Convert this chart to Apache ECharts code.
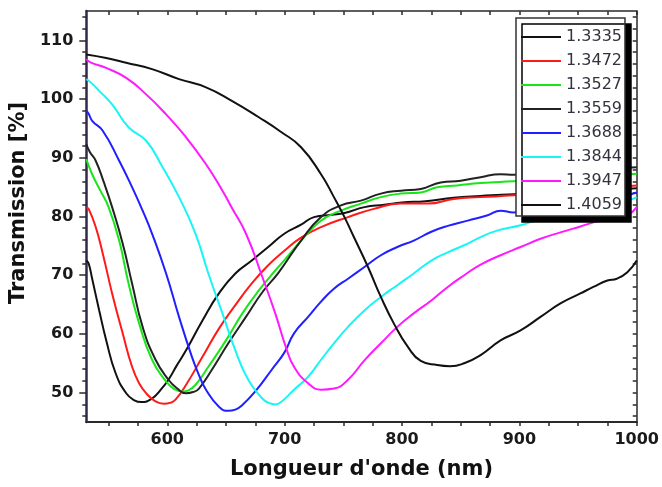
<!DOCTYPE html>
<html>
<head>
<meta charset="utf-8">
<script src="https://cdn.jsdelivr.net/npm/echarts@6/dist/echarts.min.js"></script>
<style>
html,body{margin:0;padding:0;background:#fff;}
#chart{width:662px;height:487px;}
</style>
</head>
<body>
<div id="chart"></div>
<script>
// ---- data ----
const seriesNames = ['1.3335','1.3472','1.3527','1.3559','1.3688','1.3844','1.3947','1.4059'];

const wl1 = [531,533,536,542,548,556,565,572,578,587,594,601,608,616,630,644,658,672,686,700,714,725,740,751,768,785,800,820,844,867,895,930,960,1000];
const t1  = [72.5,72.0,69.4,64.0,58.9,53.3,49.9,48.7,48.4,49.0,50.4,52.2,54.6,57.2,62.3,66.9,70.3,72.5,74.8,77.1,78.6,79.9,80.3,80.6,81.6,82.0,82.4,82.6,83.2,83.5,83.8,84.0,84.3,84.8];

const wl2 = [531,533,539,545,553,562,570,576,582,590,597,603,607,615,630,644,658,672,686,700,714,731,754,776,799,822,844,867,895,930,965,1000];
const t2  = [81.5,81.3,78.2,73.7,66.9,60.1,54.4,51.6,49.9,48.5,48.1,48.3,48.8,51.0,56.1,60.9,64.9,68.6,71.7,74.2,76.4,78.2,79.9,81.3,82.2,82.2,83.0,83.3,83.6,84.2,84.8,85.3];

const wl3 = [531,536,543,550,559,567,576,587,599,606,613,618,624,635,650,664,678,692,700,714,731,748,765,782,799,816,830,847,867,895,930,965,1000];
const t3  = [89.8,87.2,84.4,81.6,75.9,68.6,61.8,55.6,51.9,50.6,50.2,50.4,51.3,54.4,58.9,63.5,67.4,70.8,72.6,75.9,79.3,81.0,82.2,83.3,83.9,84.1,85.0,85.3,85.7,86.0,86.4,86.8,87.3];

const wl4 = [531,534,539,546,553,562,570,579,590,601,608,616,622,627,638,652,667,681,695,714,731,748,765,782,799,816,833,850,867,884,895,930,965,1000];
const t4  = [92.3,91.0,89.5,85.8,81.6,75.4,68.6,61.2,55.6,52.2,50.8,49.9,50.1,50.7,53.9,58.4,62.9,67.1,70.5,75.9,79.9,81.9,82.7,83.9,84.4,84.7,85.8,86.1,86.7,87.2,87.1,87.6,88.0,88.4];

const wl5 = [531,533,536,545,559,570,579,587,599,610,621,627,633,644,652,658,664,675,689,700,708,720,731,742,754,768,782,796,810,825,839,856,873,884,895,912,935,960,980,1000];
const t5  = [98.0,97.5,96.3,94.6,89.5,85.0,81.0,77.1,70.3,62.9,56.1,53.0,50.5,47.6,46.9,47.1,47.9,50.2,53.9,56.9,60.1,62.9,65.5,67.7,69.4,71.4,73.4,74.8,75.9,77.4,78.4,79.3,80.2,81.0,80.7,81.3,81.7,82.3,83.0,84.1];

const wl6 = [531,535,542,553,567,582,596,610,624,635,647,658,669,681,686,692,697,708,720,731,742,754,768,782,796,810,825,839,853,867,881,901,918,935,952,969,986,1000];
const t6  = [103.4,102.8,101.4,99.1,95.2,92.9,88.4,83.3,77.1,70.3,63.5,57.2,52.2,49.0,48.3,48.0,48.4,50.5,52.7,55.6,58.4,61.2,64.0,66.3,68.3,70.3,72.5,73.9,75.1,76.5,77.6,78.5,79.6,80.3,80.9,81.6,82.2,83.3];

const wl7 = [531,535,548,565,582,599,616,633,647,655,667,681,692,701,708,720,731,742,754,768,782,796,810,825,839,853,867,884,901,918,935,952,969,986,993,1000];
const t7  = [106.8,106.2,105.3,103.6,100.8,97.4,93.5,88.9,84.4,81.5,77.1,69.7,63.5,57.8,54.4,51.6,50.5,50.7,52.2,55.5,58.4,61.2,63.5,65.7,68.0,70.0,71.8,73.4,74.8,76.2,77.3,78.3,79.3,79.9,80.3,81.6];

const wl8 = [531,548,565,587,610,633,655,678,697,714,731,742,751,759,771,782,793,805,816,830,841,853,867,884,901,918,935,952,963,975,983,992,1000];
const t8  = [107.6,107.0,106.2,105.1,103.4,102.0,99.7,96.9,94.4,91.8,87.2,83.3,79.9,76.5,71.4,66.3,61.8,57.8,55.4,54.7,54.5,55.0,56.4,58.9,60.6,62.9,65.2,66.9,68.0,69.1,69.4,70.5,72.5];

const xTickValues  = [550,575,600,625,650,675,700,725,750,775,800,825,850,875,900,925,950,975,1000];
const xLabelValues = [600,700,800,900,1000];
const yLabelValues = [50,60,70,80,90,100,110];
const yTickValues  = [46,48,50,52,54,56,58,60,62,64,66,68,70,72,74,76,78,80,82,84,86,88,90,92,94,96,98,100,102,104,106,108,110,112,114];

// ---- chart ----
const wls = [wl1,wl2,wl3,wl4,wl5,wl6,wl7,wl8];
const ts  = [t1,t2,t3,t4,t5,t6,t7,t8];
const colors = ['#111111','#ff1a1a','#19e619','#222222','#1f1fff','#19f5f5','#ff19ff','#111111'];

const FONT = 'DejaVu Sans';
const AXC = '#2a2a2a';

const chart = echarts.init(document.getElementById('chart'), null, {renderer:'canvas'});

const series = seriesNames.map((n,i)=>({
  name: n,
  type: 'line',
  xAxisIndex: 0,
  yAxisIndex: 0,
  data: wls[i].map((w,k)=>[w, ts[i][k]]),
  symbol: 'none',
  showSymbol: false,
  smooth: 0.5,
  lineStyle: {color: colors[i], width: 2},
  itemStyle: {color: colors[i]},
  z: 2 + i*0.01,
  animation: false
}));

const fmt = v => String(v);

chart.setOption({
  backgroundColor: '#ffffff',
  animation: false,
  grid: {left: 85, right: 25, top: 11, bottom: 65, containLabel: false},
  legend: {
    data: seriesNames,
    orient: 'vertical',
    left: 516,
    top: 18,
    padding: [11, 3, 3, 5],
    itemWidth: 40,
    itemHeight: 14,
    itemGap: 8,
    icon: 'path://M0,0 L40,0 L40,2 L0,2 Z',
    backgroundColor: '#ffffff',
    borderColor: '#333333',
    borderWidth: 1.5,
    shadowColor: '#000000',
    shadowBlur: 0,
    shadowOffsetX: 6,
    shadowOffsetY: 6,
    selectedMode: false,
    textStyle: {fontFamily: FONT, fontSize: 16, color: '#33333f', lineHeight: 14},
    z: 10
  },
  xAxis: [
    {
      type: 'value', position: 'bottom', min: 531, max: 1000,
      name: "Longueur d'onde (nm)", nameLocation: 'middle', nameGap: 37,
      nameTextStyle: {fontFamily: FONT, fontWeight: 'bold', fontSize: 21, color: '#111'},
      axisLine: {show: true, onZero: false, lineStyle: {color: AXC, width: 2}},
      axisTick: {show: true, inside: false, length: 4, customValues: xTickValues, lineStyle: {color: AXC, width: 1.5}},
      axisLabel: {show: true, customValues: xLabelValues, formatter: fmt, margin: 10, fontFamily: FONT, fontWeight: 'bold', fontSize: 16, color: '#1a1a1a'},
      splitLine: {show: false}
    },
    {
      type: 'value', position: 'top', min: 531, max: 1000,
      axisLine: {show: true, onZero: false, lineStyle: {color: AXC, width: 1.5}},
      axisTick: {show: true, inside: true, length: 4, customValues: xTickValues, lineStyle: {color: AXC, width: 1.5}},
      axisLabel: {show: false},
      splitLine: {show: false}
    }
  ],
  yAxis: [
    {
      type: 'value', position: 'left', min: 45, max: 115,
      name: 'Transmission [%]', nameLocation: 'middle', nameGap: 50,
      nameTextStyle: {fontFamily: FONT, fontWeight: 'bold', fontSize: 21, color: '#111', padding: [0,0,0,27]},
      axisLine: {show: true, onZero: false, lineStyle: {color: '#33294a', width: 2.5}},
      axisTick: {show: true, inside: false, length: 7, customValues: yLabelValues, lineStyle: {color: AXC, width: 1.5}},
      axisLabel: {show: true, customValues: yLabelValues, formatter: fmt, margin: 13, fontFamily: FONT, fontWeight: 'bold', fontSize: 16, color: '#1a1a1a'},
      splitLine: {show: false}
    },
    {
      type: 'value', position: 'left', min: 45, max: 115,
      axisLine: {show: false},
      axisTick: {show: true, inside: false, length: 4, customValues: yTickValues, lineStyle: {color: AXC, width: 1.5}},
      axisLabel: {show: false},
      splitLine: {show: false}
    },
    {
      type: 'value', position: 'right', min: 45, max: 115,
      axisLine: {show: true, onZero: false, lineStyle: {color: AXC, width: 1.5}},
      axisTick: {show: true, inside: true, length: 4, customValues: yTickValues, lineStyle: {color: AXC, width: 1.5}},
      axisLabel: {show: false},
      splitLine: {show: false}
    }
  ],
  series: series
});
</script>
</body>
</html>
